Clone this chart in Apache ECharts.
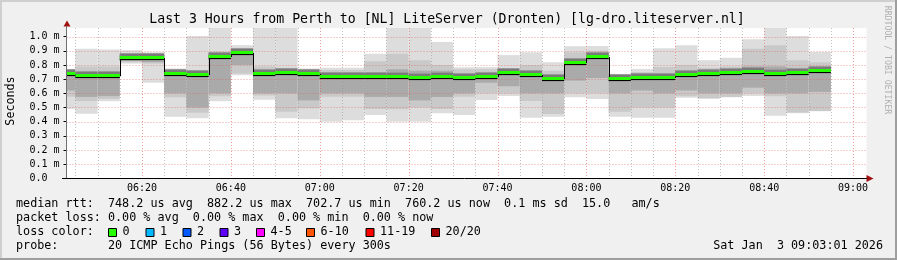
<!DOCTYPE html>
<html><head><meta charset="utf-8">
<script src="https://cdn.jsdelivr.net/npm/echarts@6/dist/echarts.min.js"></script>
<style>html,body{margin:0;padding:0;background:#f0f0f0}#c{width:897px;height:260px}</style>
</head><body><div id="c"></div><script>
// ---- data (values in ms) ----
const startTime = '06:03:01';
const endTime = '09:03:01';
const binEnds = ['06:05','06:10','06:15','06:20','06:25','06:30','06:35','06:40','06:45','06:50','06:55','07:00','07:05','07:10','07:15','07:20','07:25','07:30','07:35','07:40','07:45','07:50','07:55','08:00','08:05','08:10','08:15','08:20','08:25','08:30','08:35','08:40','08:45','08:50','08:55'];
const maxV   = [0.770,0.915,0.910,0.905,0.890,0.775,1.005,1.070,0.940,1.070,1.070,0.775,0.780,0.780,0.880,1.070,1.070,0.962,0.785,0.785,0.870,0.890,0.820,0.933,0.934,0.735,0.771,0.919,0.940,0.834,0.851,0.982,1.070,1.005,0.892];
const hi2    = [0.765,0.790,0.790,0.880,0.870,0.765,0.765,0.895,0.910,0.790,0.780,0.765,0.765,0.765,0.826,0.880,0.833,0.800,0.770,0.770,0.770,0.800,0.760,0.890,0.900,0.725,0.750,0.786,0.800,0.780,0.790,0.915,0.940,0.834,0.820];
const hi3    = [0.750,0.740,0.745,0.865,0.860,0.750,0.745,0.875,0.895,0.760,0.765,0.755,0.730,0.730,0.740,0.770,0.760,0.760,0.735,0.730,0.755,0.750,0.720,0.840,0.870,0.715,0.725,0.730,0.750,0.760,0.765,0.790,0.790,0.780,0.790];
const median = [0.740,0.720,0.720,0.848,0.848,0.738,0.730,0.858,0.885,0.737,0.745,0.737,0.712,0.712,0.718,0.717,0.710,0.717,0.710,0.715,0.742,0.730,0.703,0.815,0.857,0.704,0.709,0.706,0.730,0.738,0.745,0.752,0.737,0.744,0.758];
const lo3    = [0.620,0.575,0.580,0.830,0.820,0.600,0.500,0.600,0.800,0.600,0.600,0.550,0.600,0.600,0.575,0.575,0.550,0.574,0.600,0.675,0.650,0.600,0.600,0.690,0.708,0.600,0.620,0.600,0.620,0.600,0.600,0.640,0.600,0.600,0.610];
const lo2    = [0.576,0.545,0.560,0.820,0.810,0.572,0.463,0.580,0.740,0.585,0.470,0.494,0.576,0.576,0.489,0.487,0.500,0.490,0.576,0.600,0.600,0.546,0.454,0.600,0.600,0.470,0.500,0.500,0.580,0.567,0.574,0.600,0.580,0.464,0.475];
const minV   = [0.490,0.455,0.545,0.810,0.675,0.435,0.424,0.545,0.728,0.555,0.424,0.417,0.400,0.410,0.447,0.400,0.400,0.460,0.447,0.553,0.581,0.428,0.435,0.572,0.560,0.435,0.428,0.427,0.568,0.560,0.572,0.582,0.441,0.460,0.473];
const binMinutes = 5;
const xTickLabels = ['06:20','06:40','07:00','07:20','07:40','08:00','08:20','08:40','09:00'];
const yTickValues = [0,0.1,0.2,0.3,0.4,0.5,0.6,0.7,0.8,0.9,1.0];
const yTickLabels = ['0.0  ','0.1 m','0.2 m','0.3 m','0.4 m','0.5 m','0.6 m','0.7 m','0.8 m','0.9 m','1.0 m'];
const yMax = 1.0614;
const legendLines = [
  'median rtt:  748.2 us avg  882.2 us max  702.7 us min  760.2 us now  0.1 ms sd  15.0   am/s',
  'packet loss: 0.00 % avg  0.00 % max  0.00 % min  0.00 % now',
  'loss color:',
  'probe:       20 ICMP Echo Pings (56 Bytes) every 300s'
];
const lossLabels = ['0','1','2','3','4-5','6-10','11-19','20/20'];
const lossColors = ['#26ff00','#00b8ff','#0059ff','#5e00ff','#ff00ff','#ff5500','#ff0000','#a10000'];
const dateText = 'Sat Jan  3 09:03:01 2026';
const titleText = 'Last 3 Hours from Perth to [NL] LiteServer (Dronten) [lg-dro.liteserver.nl]';

// ---- helpers ----
function toMin(s){const p=s.split(':').map(Number);return p[0]*60+p[1]+(p[2]||0)/60;}
const xMin = toMin(startTime), xMax = toMin(endTime);
const xTickVals = xTickLabels.map(toMin);

const smokeData = binEnds.map((e,i)=>{
  const end = toMin(e);
  return [end-binMinutes, end, maxV[i], hi2[i], hi3[i], median[i], lo3[i], lo2[i], minV[i], i>0?median[i-1]:median[i]];
});

// grid lines: kind 0 = horizontal, 1 = minor vertical, 2 = major vertical
const gridData = [];
yTickValues.forEach(v=>{ if(v>0) gridData.push([xMin, v, 0]); });
for(let m=Math.ceil(xMin/binMinutes)*binMinutes; m<=xMax; m+=binMinutes){
  gridData.push([m, 0, xTickVals.some(t=>Math.abs(t-m)<1e-6)?2:1]);
}

const MONO='"DejaVu Sans Mono", monospace';

function renderSmoke(params, api){
  const cs = params.coordSys;
  const top = cs.y, bottom = cs.y+cs.height;
  const xa = Math.max(cs.x, api.coord([api.value(0),0])[0]);
  const xb = Math.min(cs.x+cs.width, api.coord([api.value(1),0])[0]);
  const yOf = v => Math.min(bottom, Math.max(top, api.coord([xMin, v])[1]));
  const w = xb-xa;
  const kids = [];
  const layers = [[2,8,'#dddddd'],[3,7,'#c9c9c9'],[4,6,'#aaaaaa']];
  layers.forEach(([h,l,c])=>{
    const yt=yOf(api.value(h)), yb=yOf(api.value(l));
    kids.push({type:'rect',shape:{x:xa,y:yt,width:w,height:yb-yt},style:{fill:c}});
  });
  const ym = Math.round(yOf(api.value(5)));
  kids.push({type:'rect',shape:{x:xa,y:ym-5,width:w,height:8},style:{fill:'#9a9a9a'}});
  kids.push({type:'rect',shape:{x:xa,y:ym-4,width:w,height:5},style:{fill:'#7a7a7a'}});
  return {type:'group',children:kids};
}
function renderMedian(params, api){
  const cs = params.coordSys;
  const xa = Math.max(cs.x, api.coord([api.value(0),0])[0]);
  const xb = Math.min(cs.x+cs.width, api.coord([api.value(1),0])[0]);
  const ym = Math.round(api.coord([xMin, api.value(5)])[1]);
  const yp = Math.round(api.coord([xMin, api.value(9)])[1]);
  const kids = [];
  if(params.dataIndex>0 && yp!==ym){
    kids.push({type:'line',shape:{x1:Math.round(xa)+0.5,y1:yp,x2:Math.round(xa)+0.5,y2:ym+1},style:{stroke:'#000',lineWidth:1}});
  }
  kids.push({type:'line',shape:{x1:xa,y1:ym+1.5,x2:xb,y2:ym+1.5},style:{stroke:'#000',lineWidth:1}});
  kids.push({type:'rect',shape:{x:xa,y:ym-2,width:xb-xa,height:3},style:{fill:lossColors[0]}});
  return {type:'group',children:kids};
}
function renderGrid(params, api){
  const cs = params.coordSys;
  const kind = api.value(2);
  if(kind===0){
    const y = Math.round(api.coord([xMin, api.value(1)])[1])+0.5;
    return {type:'line',shape:{x1:cs.x,y1:y,x2:cs.x+cs.width,y2:y},style:{stroke:'rgba(222,80,80,0.55)',lineWidth:1,lineDash:[1,2]}};
  }
  const x = Math.round(api.coord([api.value(0),0])[0])+0.5;
  return {type:'line',shape:{x1:x,y1:cs.y,x2:x,y2:cs.y+cs.height},
    style:{stroke: kind===2?'rgba(222,80,80,0.55)':'rgba(143,143,143,0.55)',lineWidth:1,lineDash:[1,2]}};
}

const chart = echarts.init(document.getElementById('c'), null, {renderer:'canvas'});
const graphics = [];
// frame
graphics.push({type:'rect',shape:{x:0,y:0,width:897,height:2},style:{fill:'#cfcfcf'},silent:true});
graphics.push({type:'rect',shape:{x:0,y:0,width:2,height:260},style:{fill:'#cfcfcf'},silent:true});
graphics.push({type:'rect',shape:{x:0,y:258,width:897,height:2},style:{fill:'#9e9e9e'},silent:true});
graphics.push({type:'rect',shape:{x:895,y:0,width:2,height:260},style:{fill:'#9e9e9e'},silent:true});
// title
graphics.push({type:'text',x:447,y:19.5,style:{text:titleText,font:'13.2px '+MONO,fill:'#000',align:'center',verticalAlign:'middle'}});
// y axis name
graphics.push({type:'text',x:11,y:101,rotation:Math.PI/2,style:{text:'Seconds',font:'11.7px '+MONO,fill:'#000',align:'center',verticalAlign:'middle'}});
// rrdtool credit
graphics.push({type:'text',x:887,y:60,rotation:-Math.PI/2,style:{text:'RRDTOOL / TOBI OETIKER',font:'8.2px '+MONO,fill:'#b0b0b0',align:'center',verticalAlign:'middle'}});
// arrows
graphics.push({type:'polygon',shape:{points:[[63.5,26.5],[70.5,26.5],[67,20.5]]},style:{fill:'#a01010'},z:20});
graphics.push({type:'polygon',shape:{points:[[866.5,175],[866.5,182],[873.5,178.5]]},style:{fill:'#a01010'},z:20});
graphics.push({type:'line',shape:{x1:66.5,y1:26,x2:66.5,y2:178},style:{stroke:'#707070',lineWidth:1},z:20});
graphics.push({type:'line',shape:{x1:62,y1:178.5,x2:867,y2:178.5},style:{stroke:'#000',lineWidth:1},z:20});
// legend text
const legY = [204.3, 218.3, 232.3, 246.3];
legendLines.forEach((t,i)=>{
  graphics.push({type:'text',x:16,y:legY[i],style:{text:t,font:'11.76px '+MONO,fill:'#000',align:'left',verticalAlign:'middle'}});
});
const boxX = [108,145.5,182.5,219.5,256,306,365.5,431];
lossLabels.forEach((l,i)=>{
  graphics.push({type:'rect',shape:{x:boxX[i]+0.5,y:228.5,width:8,height:8},style:{fill:lossColors[i],stroke:'#000',lineWidth:1}});
  graphics.push({type:'text',x:boxX[i]+14.5,y:legY[2],style:{text:l,font:'11.76px '+MONO,fill:'#000',align:'left',verticalAlign:'middle'}});
});
graphics.push({type:'text',x:883,y:legY[3],style:{text:dateText,font:'11.76px '+MONO,fill:'#000',align:'right',verticalAlign:'middle'}});

chart.setOption({
  animation:false,
  backgroundColor:'#f0f0f0',
  grid:{left:66.5,top:28,width:800,height:150.3,show:true,backgroundColor:'#ffffff',borderWidth:0},
  xAxis:{type:'value',min:xMin,max:xMax,
    axisLine:{show:false},axisTick:{show:false},splitLine:{show:false},
    axisLabel:{customValues:xTickVals,margin:5,fontFamily:'DejaVu Sans Mono',fontSize:10,color:'#000',
      formatter:v=>{const i=xTickVals.findIndex(t=>Math.abs(t-v)<1e-6);return i>=0?xTickLabels[i]:'';}}},
  yAxis:{type:'value',min:0,max:yMax,
    axisLine:{show:false},splitLine:{show:false},
    axisTick:{show:true,customValues:yTickValues,length:3,lineStyle:{color:'#000'}},
    axisLabel:{customValues:yTickValues,margin:7,fontFamily:'DejaVu Sans Mono',fontSize:10,color:'#000',
      formatter:v=>{const i=yTickValues.findIndex(t=>Math.abs(t-v)<1e-6);return i>=0?yTickLabels[i]:'';}}},
  series:[
    {type:'custom',name:'smoke',renderItem:renderSmoke,data:smokeData,z:2,encode:{x:[0,1],y:[2,8]},silent:true},
    {type:'custom',name:'grid',renderItem:renderGrid,data:gridData,z:3,encode:{x:0,y:1},silent:true},
    {type:'custom',name:'median',renderItem:renderMedian,data:smokeData,z:4,encode:{x:[0,1],y:5},silent:true}
  ],
  graphic:graphics
});
</script></body></html>
